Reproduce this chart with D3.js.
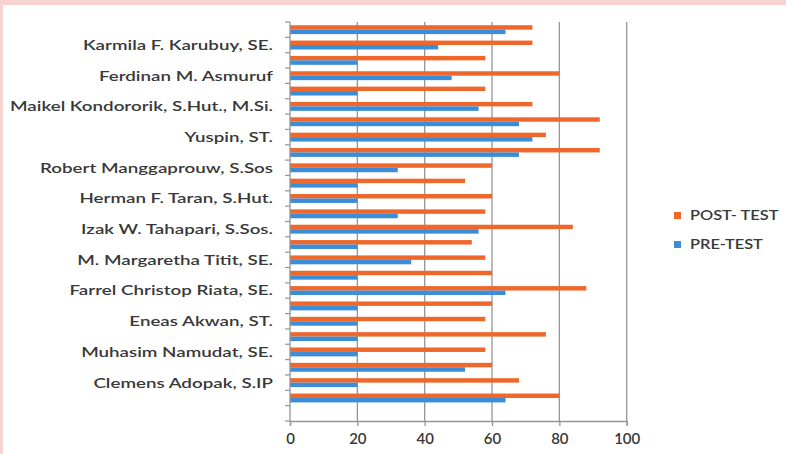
<!DOCTYPE html>
<html><head><meta charset="utf-8">
<script src="https://cdn.jsdelivr.net/npm/d3@7"></script>
<style>
html,body{margin:0;padding:0;background:#fff;}
svg{display:block;}
</style></head>
<body>
<svg id="chart" width="786" height="454"></svg>
<script>
// Categories from top to bottom (Excel shows only every other label)
const labels = ["", "Karmila F. Karubuy, SE.", "", "Ferdinan M. Asmuruf", "", "Maikel Kondororik, S.Hut., M.Si.", "", "Yuspin, ST.", "", "Robert Manggaprouw, S.Sos", "", "Herman F. Taran, S.Hut.", "", "Izak W. Tahapari, S.Sos.", "", "M. Margaretha Titit, SE.", "", "Farrel Christop Riata, SE.", "", "Eneas Akwan, ST.", "", "Muhasim Namudat, SE.", "", "Clemens Adopak, S.IP", "", ""];
const postTest = [72,72,58,80,58,72,92,76,92,60,52,60,58,84,54,58,60,88,60,58,76,58,60,68,80,null];
const preTest  = [64,44,20,48,20,56,68,72,68,32,20,20,32,56,20,36,20,64,20,20,20,20,52,20,64,null];
const seriesNames = ["POST- TEST", "PRE-TEST"];
const seriesColors = ["#ef672a", "#3a8dd6"];
const xTicks = [0,20,40,60,80,100];

(function () {
const svg = d3.select("#chart");
const W = 786, H = 454;
svg.append("rect").attr("width", W).attr("height", H).attr("fill", "#f6d3cf");
svg.append("rect").attr("x", 3).attr("y", 5).attr("width", W - 3).attr("height", H - 5).attr("fill", "#fff");

const pL = 290, pR = 626.7, pT = 22, pB = 421;
const x = d3.scaleLinear().domain([0, 100]).range([pL, pR]);
const idx = labels.map((d, i) => i);
const y = d3.scaleBand().domain(idx).range([pT, pB]).paddingInner(0.42).paddingOuter(0.21);
const ySub = d3.scaleBand().domain([0, 1]).range([0, y.bandwidth()]);
const yFull = d3.scaleBand().domain(idx).range([pT, pB]);

const font = "Lato, 'Open Sans', sans-serif";
const txt = "#383838";
const stretch = 1.34;

// gridlines
svg.append("g").selectAll("line").data(xTicks.filter(t => t > 0)).join("line")
  .attr("x1", d => x(d)).attr("x2", d => x(d)).attr("y1", pT).attr("y2", pB)
  .attr("stroke", "#959595").attr("stroke-width", 1.3);

// bars
const data = [];
idx.forEach(i => {
  [postTest, preTest].forEach((arr, s) => {
    if (arr[i] != null) data.push({i, s, v: arr[i]});
  });
});
svg.append("g").selectAll("rect").data(data).join("rect")
  .attr("x", x(0)).attr("width", d => x(d.v) - x(0))
  .attr("y", d => y(d.i) + ySub(d.s)).attr("height", ySub.bandwidth())
  .attr("fill", d => seriesColors[d.s]);

// x axis
const xAxis = d3.axisBottom(x).tickValues(xTicks).tickSize(5).tickFormat(d3.format("d"));
const gx = svg.append("g").attr("transform", `translate(0,${pB})`).call(xAxis);
gx.select(".domain").attr("stroke", "#959595").attr("stroke-width", 1.3);
gx.selectAll(".tick line").attr("stroke", "#959595").attr("stroke-width", 1.3);
gx.selectAll(".tick text").attr("font-family", font).attr("font-size", 15).attr("font-weight", 600)
  .attr("fill", txt).attr("dy", "1.1em").attr("y", 6);

// y axis line and ticks at category boundaries
svg.append("line").attr("x1", pL).attr("x2", pL).attr("y1", pT).attr("y2", pB)
  .attr("stroke", "#959595").attr("stroke-width", 1.3);
const bounds = idx.map(i => yFull(i)).concat([pB]);
svg.append("g").selectAll("line").data(bounds).join("line")
  .attr("x1", pL - 5).attr("x2", pL).attr("y1", d => d).attr("y2", d => d)
  .attr("stroke", "#959595").attr("stroke-width", 1.2);

// category labels (stretched horizontally like the reference)
const lab = svg.append("g").selectAll("text").data(idx.filter(i => labels[i] !== "")).join("text")
  .attr("x", 273).attr("y", i => yFull(i) + yFull.bandwidth() / 2)
  .attr("dy", "0.35em").attr("text-anchor", "end")
  .attr("font-family", font).attr("font-size", 14).attr("font-weight", 600).attr("fill", txt)
  .text(i => labels[i]);
lab.each(function () {
  const n = this.getComputedTextLength();
  d3.select(this).attr("textLength", n * stretch).attr("lengthAdjust", "spacingAndGlyphs");
});

// legend
const lg = svg.append("g");
seriesNames.forEach((n, s) => {
  const ly = 215 + s * 29;
  lg.append("rect").attr("x", 674).attr("y", ly - 3).attr("width", 7).attr("height", 7).attr("fill", seriesColors[s]);
  const t = lg.append("text").attr("x", 690).attr("y", ly).attr("dy", "0.35em")
    .attr("font-family", font).attr("font-size", 13).attr("font-weight", 600).attr("fill", txt).text(n);
  const len = t.node().getComputedTextLength();
  t.attr("textLength", len * 1.26).attr("lengthAdjust", "spacingAndGlyphs");
});
})();
</script>
</body></html>
